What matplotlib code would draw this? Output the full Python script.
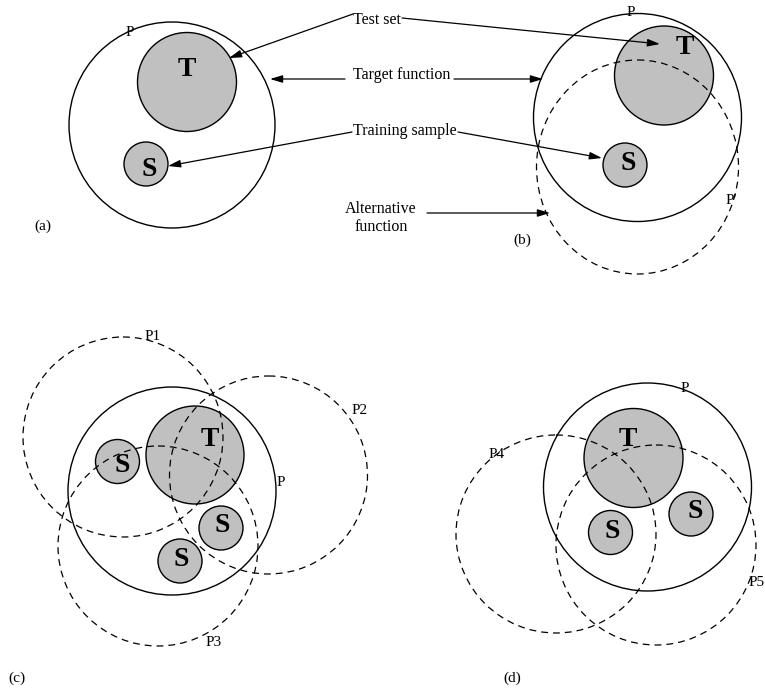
import matplotlib
matplotlib.use("Agg")
import matplotlib.pyplot as plt
from matplotlib.patches import Circle, Ellipse

# ---- diagram data (pixel space of the original figure) ----
# solid "P" circles: centre x, centre y, radius
p_cx = [172, 637.5, 172, 647.5]
p_cy = [125, 117.5, 491, 487]
p_r = [103, 104, 104, 104]

# shaded test-set circles (T)
t_cx = [187, 664, 195, 633.5]
t_cy = [82, 75.5, 455, 458]
t_r = [49.5, 49.5, 49, 49.5]

# shaded training-sample circles (S)
s_cx = [146, 625, 117.5, 221, 180, 610.5, 691]
s_cy = [164, 165, 461.5, 528, 561, 532.5, 514]
s_r = [22, 22, 22, 22, 22, 22, 22]

# dashed alternative functions: centre x, centre y, width, height
d_cx = [637.5, 123, 268.5, 158, 556, 656]
d_cy = [167, 437, 475, 546, 534, 545]
d_w = [202, 200, 198, 200, 200, 200]
d_h = [214, 200, 198, 200, 198, 200]

# bold letters inside circles
letters = ["T", "S", "T", "S", "T", "S", "S", "S", "T", "S", "S"]
letter_x = [187, 149, 685, 628, 210, 122, 222, 181, 628, 612, 695]
letter_y = [69, 169, 48, 163, 439, 466, 526, 559, 439, 532, 512]

# small labels
labels = ["P", "(a)", "P", "P'", "(b)", "P1", "P2", "P", "P3", "(c)",
          "P", "P4", "P5", "(d)"]
label_x = [130, 43, 631, 731, 522, 153, 360, 281, 214, 17,
           685, 497, 757, 512]
label_y = [33, 226, 12, 201, 240, 337, 410, 482, 643, 678,
           388, 455, 583, 678]

# annotation texts
ann_text = ["Test set", "Target function", "Training sample"]
ann_x = [353, 353, 353]
ann_y = [20, 75, 131]
alt_text = "Alternative\nfunction"

# arrows: start (x, y) -> tip (x, y)
arr_x0 = [353, 402, 345, 454, 352, 458, 427]
arr_y0 = [14, 18, 79, 79, 132, 132, 213]
arr_x1 = [229, 660, 270, 543, 168, 602, 550]
arr_y1 = [58, 44, 79, 79, 166, 158, 213]

# ---- drawing ----
W, H = 765, 688
fig = plt.figure(figsize=(W / 100, H / 100), dpi=100)
ax = fig.add_axes([0, 0, 1, 1])
ax.set_xlim(0, W)
ax.set_ylim(H, 0)
ax.axis("off")

serif = ["Liberation Serif", "DejaVu Serif"]
fill = "#c0c0c0"
lw = 1.0

for x, y, r in zip(p_cx, p_cy, p_r):
    ax.add_patch(Circle((x, y), r, facecolor="none", edgecolor="black", lw=lw, zorder=2))
for x, y, r in zip(t_cx, t_cy, t_r):
    ax.add_patch(Circle((x, y), r, facecolor=fill, edgecolor="black", lw=lw, zorder=3))
for x, y, r in zip(s_cx, s_cy, s_r):
    ax.add_patch(Circle((x, y), r, facecolor=fill, edgecolor="black", lw=lw, zorder=3))
for x, y, w, h in zip(d_cx, d_cy, d_w, d_h):
    ax.add_patch(Ellipse((x, y), w, h, facecolor="none", edgecolor="black",
                         lw=0.9, linestyle=(0, (5.5, 4)), zorder=4))

for t, x, y in zip(letters, letter_x, letter_y):
    ax.text(x, y, t, family=serif, fontweight="bold", fontsize=20,
            ha="center", va="center", zorder=6)

for t, x, y in zip(labels, label_x, label_y):
    ax.text(x, y, t, family=serif, fontsize=11, ha="center", va="center", zorder=6)

for t, x, y in zip(ann_text, ann_x, ann_y):
    ax.text(x, y, t, family=serif, fontsize=11.5, ha="left", va="center", zorder=6)
ax.text(381, 218, alt_text, family=serif, fontsize=11.5, ha="center", va="center",
        linespacing=1.15, zorder=6)

for x0, y0, x1, y1 in zip(arr_x0, arr_y0, arr_x1, arr_y1):
    ax.annotate("", xy=(x1, y1), xytext=(x0, y0),
                arrowprops=dict(arrowstyle="-|>,head_length=0.5,head_width=0.15",
                                mutation_scale=15, lw=0.9, color="black",
                                shrinkA=0, shrinkB=0),
                zorder=5)

fig.savefig("out.png", dpi=100, facecolor="white")
